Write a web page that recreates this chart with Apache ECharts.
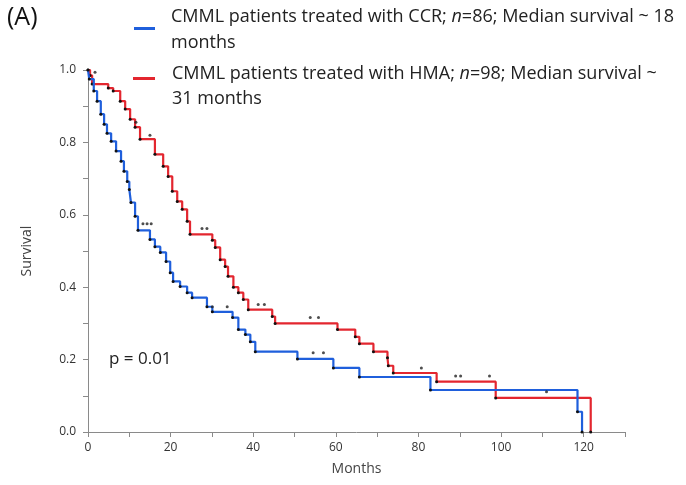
<!DOCTYPE html>
<html>
<head>
<meta charset="utf-8">
<script src="https://cdn.jsdelivr.net/npm/echarts@6/dist/echarts.min.js"></script>
<style>
html,body{margin:0;padding:0;background:#fff;}
#chart{width:686px;height:485px;}
</style>
</head>
<body>
<div id="chart"></div>
<script>
// ---- data ----
var ccrMonths   = [0, 0.3, 1.4, 2.2, 3.1, 3.9, 4.6, 5.6, 6.8, 8.0, 8.7, 9.5, 10.0, 10.4, 11.4, 12.1, 15.0, 16.2, 17.5, 18.9, 19.9, 20.6, 22.3, 24.0, 25.2, 28.8, 30.1, 35.0, 36.4, 38.1, 39.3, 40.5, 50.7, 59.4, 65.7, 82.9, 118.5, 119.6];
var ccrSurvival = [1.0, 0.975, 0.942, 0.914, 0.878, 0.85, 0.825, 0.803, 0.776, 0.748, 0.72, 0.692, 0.67, 0.634, 0.596, 0.557, 0.532, 0.512, 0.496, 0.471, 0.44, 0.416, 0.402, 0.385, 0.371, 0.346, 0.332, 0.316, 0.283, 0.269, 0.249, 0.222, 0.202, 0.177, 0.152, 0.116, 0.056, 0];
var hmaMonths   = [0, 0.5, 1.0, 4.9, 6.1, 7.8, 9.0, 10.2, 11.4, 12.6, 16.2, 18.2, 19.4, 20.4, 21.6, 22.8, 24.0, 24.7, 30.1, 30.8, 32.0, 33.2, 33.9, 35.2, 36.4, 37.6, 38.8, 44.6, 45.3, 60.4, 64.7, 65.7, 69.1, 72.5, 72.7, 73.9, 84.4, 98.7, 121.7];
var hmaSurvival = [1.0, 0.985, 0.961, 0.95, 0.942, 0.914, 0.892, 0.864, 0.842, 0.809, 0.767, 0.734, 0.706, 0.665, 0.637, 0.615, 0.582, 0.546, 0.53, 0.51, 0.476, 0.457, 0.43, 0.40, 0.385, 0.366, 0.338, 0.319, 0.30, 0.283, 0.263, 0.244, 0.222, 0.205, 0.183, 0.163, 0.139, 0.094, 0];
var ccrCensorMonths = [13.3, 14.3, 15.3, 30.1, 33.7, 54.5, 57.0, 111.0];
var ccrCensorSurv   = [0.575, 0.575, 0.575, 0.346, 0.346, 0.219, 0.219, 0.111];
var hmaCensorMonths = [1.7, 11.6, 15.0, 27.6, 28.8, 41.2, 42.7, 53.8, 55.8, 80.7, 89.0, 90.2, 97.2];
var hmaCensorSurv   = [0.994, 0.856, 0.82, 0.562, 0.562, 0.352, 0.352, 0.316, 0.316, 0.177, 0.155, 0.155, 0.155];
var xTickLabels = [0, 20, 40, 60, 80, 100, 120];
var yTickLabels = ['0.0', '0.2', '0.4', '0.6', '0.8', '1.0'];
var seriesNames = ['CMML patients treated with CCR; n=86; Median survival ~ 18 months',
                   'CMML patients treated with HMA; n=98; Median survival ~ 31 months'];

function pairs(xs, ys) { return xs.map(function (x, i) { return [x, ys[i]]; }); }

var BLUE = '#1f5fdc', RED = '#e3262f', FONT = '"Open Sans", "Noto Sans", sans-serif';

var chart = echarts.init(document.getElementById('chart'), null, {renderer: 'canvas'});
chart.setOption({
  animation: false,
  backgroundColor: '#ffffff',
  grid: {left: 88, right: 61, top: 70, bottom: 53},
  xAxis: {
    type: 'value', min: 0, max: 130, interval: 10,
    name: 'Months', nameLocation: 'middle', nameGap: 30,
    nameTextStyle: {fontFamily: FONT, fontSize: 14, color: '#444'},
    axisLine: {lineStyle: {color: '#8a8a8a'}},
    axisTick: {length: 5, lineStyle: {color: '#8a8a8a'}},
    axisLabel: {fontFamily: FONT, fontSize: 12, color: '#333', margin: 10,
      formatter: function (v) { return xTickLabels.indexOf(v) >= 0 ? String(v) : ''; }},
    splitLine: {show: false}
  },
  yAxis: {
    type: 'value', min: 0, max: 1, interval: 0.1,
    name: 'Survival', nameLocation: 'middle', nameGap: 54, nameRotate: 90,
    nameTextStyle: {fontFamily: FONT, fontSize: 14, color: '#444'},
    axisLine: {show: true, lineStyle: {color: '#8a8a8a'}},
    axisTick: {show: true, length: 5, lineStyle: {color: '#8a8a8a'}},
    axisLabel: {fontFamily: FONT, fontSize: 12, color: '#333', margin: 12,
      formatter: function (v) { var s = v.toFixed(1); return yTickLabels.indexOf(s) >= 0 && Math.abs(v * 5 - Math.round(v * 5)) < 1e-6 ? s : ''; }},
    splitLine: {show: false}
  },
  series: [
    {name: seriesNames[0], type: 'line', step: 'end', data: pairs(ccrMonths, ccrSurvival),
     lineStyle: {color: BLUE, width: 2.2}, symbol: 'circle', symbolSize: 3,
     itemStyle: {color: '#111'}, z: 3},
    {name: seriesNames[1], type: 'line', step: 'end', data: pairs(hmaMonths, hmaSurvival),
     lineStyle: {color: RED, width: 2.2}, symbol: 'circle', symbolSize: 3,
     itemStyle: {color: '#111'}, z: 2},
    {type: 'scatter', data: pairs(ccrCensorMonths, ccrCensorSurv), symbolSize: 3, itemStyle: {color: '#222'}, z: 4},
    {type: 'scatter', data: pairs(hmaCensorMonths, hmaCensorSurv), symbolSize: 3, itemStyle: {color: '#222'}, z: 4}
  ],
  graphic: [
    {type: 'text', left: 7, top: 5, style: {text: '(A)', font: '25px ' + FONT, fill: '#111'}},
    {type: 'rect', shape: {x: 134, y: 27, width: 21, height: 3}, style: {fill: BLUE}},
    {type: 'text', left: 171, top: 4, style: {
      text: 'CMML patients treated with CCR; {i|n}=86; Median survival ~ 18\nmonths',
      font: '18px ' + FONT, fill: '#222', lineHeight: 26,
      rich: {i: {fontStyle: 'italic', fontSize: 18, fontFamily: FONT, fill: '#222', lineHeight: 26}}}},
    {type: 'rect', shape: {x: 133, y: 77, width: 22, height: 3}, style: {fill: RED}},
    {type: 'text', left: 172, top: 61, style: {
      text: 'CMML patients treated with HMA; {i|n}=98; Median survival ~\n31 months',
      font: '18px ' + FONT, fill: '#222', lineHeight: 25,
      rich: {i: {fontStyle: 'italic', fontSize: 18, fontFamily: FONT, fill: '#222', lineHeight: 25}}}},
    {type: 'text', left: 109, top: 351, style: {text: 'p = 0.01', font: '17px ' + FONT, fill: '#222'}}
  ]
});
</script>
</body>
</html>
